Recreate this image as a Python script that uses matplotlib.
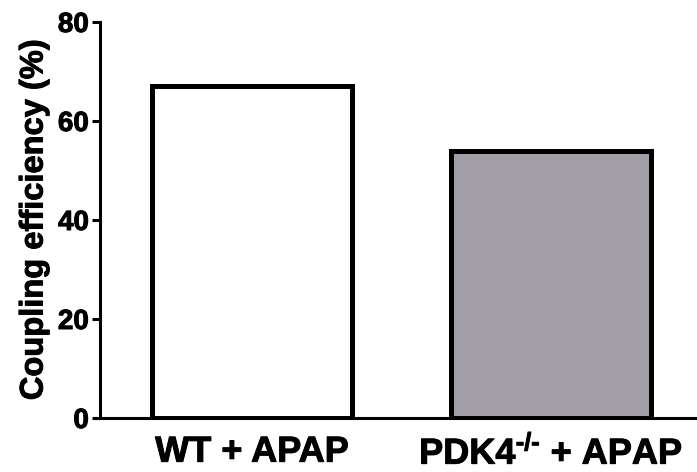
import matplotlib
matplotlib.use("Agg")
import matplotlib.pyplot as plt
import matplotlib.patheffects as pe

categories = ["WT + APAP", "PDK4$^{\u2010/\u2010}$ + APAP"]
values = [67, 54]
colors = ["#ffffff", "#a19fa5"]
yticks = [0, 20, 40, 60, 80]

plt.rcParams['font.family'] = ['Liberation Sans', 'DejaVu Sans']
plt.rcParams['font.weight'] = 'bold'
plt.rcParams['mathtext.fontset'] = 'custom'
plt.rcParams['mathtext.rm'] = 'Liberation Sans:bold'
plt.rcParams['mathtext.it'] = 'Liberation Sans:bold'
plt.rcParams['mathtext.bf'] = 'Liberation Sans:bold'
plt.rcParams['mathtext.default'] = 'rm'

heavy = [pe.withStroke(linewidth=0.7, foreground='black')]

fig = plt.figure(figsize=(6.97, 4.72), dpi=100)
ax = fig.add_axes([100/697, 54/472, 597/697, 396/472])

x = list(range(len(categories)))
ax.bar(x, values, width=0.67, color=colors, edgecolor="black", linewidth=3.6, zorder=3)

ax.set_xlim(-0.508, 1.488)
ax.set_ylim(0, 80)
ax.set_yticks(yticks)
ax.set_yticklabels([str(t) for t in yticks], fontsize=20, fontweight='bold')
ax.set_xticks(x)
ax.set_xticklabels(categories, fontsize=26, fontweight='bold')
ax.tick_params(axis='x', length=0, pad=12)
ax.tick_params(axis='y', length=6, width=2.2, pad=2)
ax.set_ylabel("Coupling efficiency (%)", fontsize=23.5, fontweight='bold', labelpad=6)

for t in ax.get_xticklabels() + ax.get_yticklabels() + [ax.yaxis.label]:
    t.set_path_effects(heavy)

for s in ['top', 'right']:
    ax.spines[s].set_visible(False)
for s in ['left', 'bottom']:
    ax.spines[s].set_linewidth(2.2)
ax.spines['bottom'].set_zorder(4)

fig.savefig("out.png", dpi=100)
